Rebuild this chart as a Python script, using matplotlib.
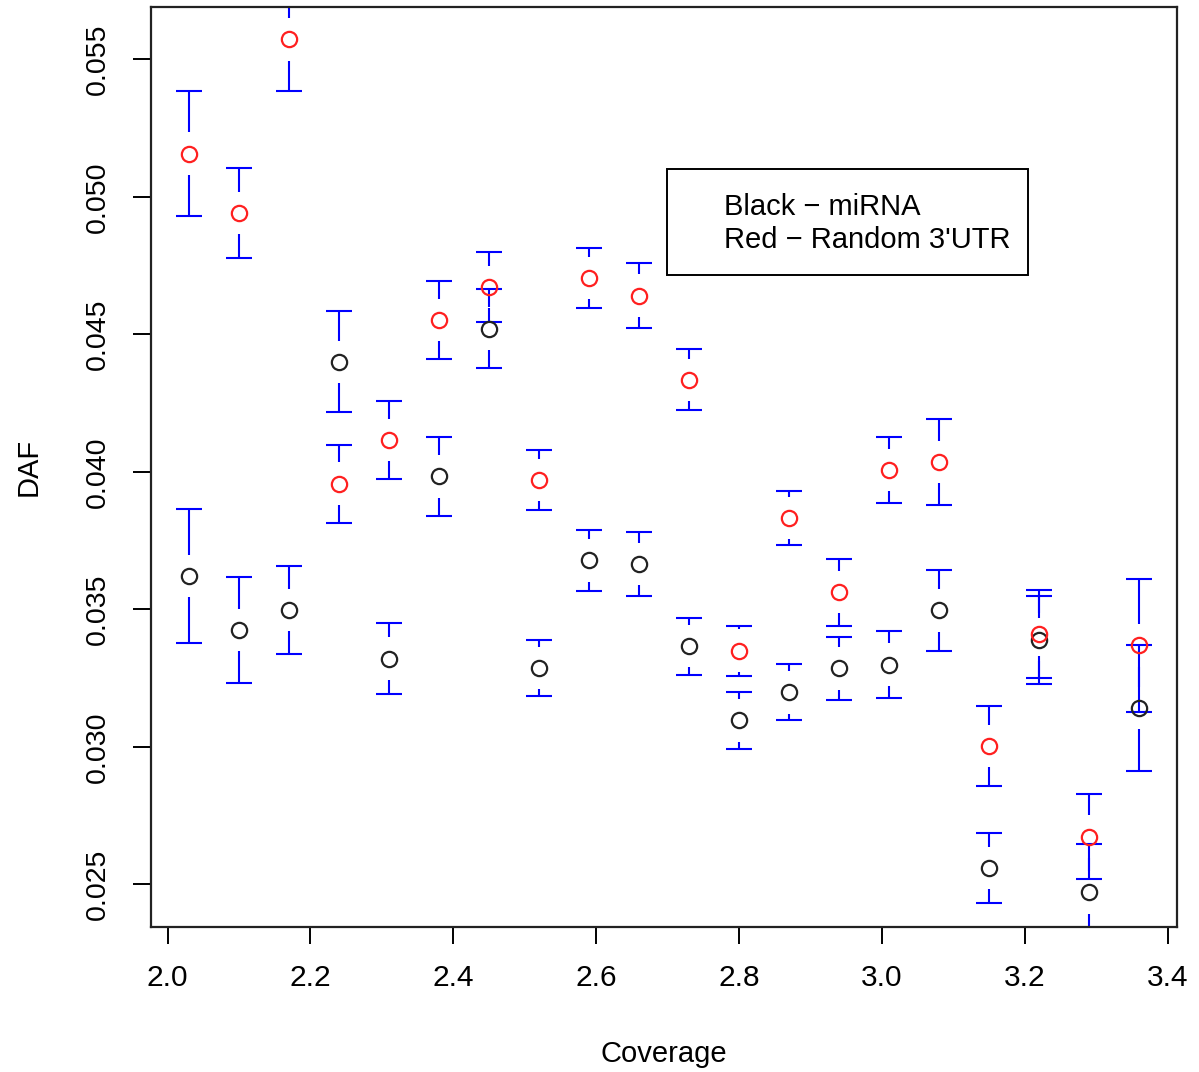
import matplotlib
matplotlib.use("Agg")
import matplotlib.pyplot as plt
from matplotlib.patches import Rectangle
import numpy as np

# coverage bins
coverage = [2.03, 2.10, 2.17, 2.24, 2.31, 2.38, 2.45, 2.52, 2.59, 2.66,
            2.73, 2.80, 2.87, 2.94, 3.01, 3.08, 3.15, 3.22, 3.29, 3.36]

# miRNA (black) mean DAF and half-width of interval
mirna_daf = [0.03621, 0.03424, 0.03497, 0.04400, 0.03321, 0.03983, 0.04521, 0.03286, 0.03678, 0.03665,
             0.03366, 0.03096, 0.03198, 0.03285, 0.03299, 0.03496, 0.02559, 0.03390, 0.02471, 0.03141]
mirna_err = [0.00243, 0.00193, 0.00160, 0.00183, 0.00128, 0.00143, 0.00142, 0.00101, 0.00112, 0.00117,
             0.00104, 0.00102, 0.00102, 0.00113, 0.00123, 0.00146, 0.00128, 0.00160, 0.00175, 0.00229]

# random 3'UTR (red)
utr_daf = [0.05157, 0.04940, 0.05572, 0.03957, 0.04115, 0.04553, 0.04671, 0.03970, 0.04705, 0.04641,
           0.04334, 0.03350, 0.03831, 0.03562, 0.04007, 0.04035, 0.03002, 0.03409, 0.02674, 0.03369]
utr_err = [0.00226, 0.00163, 0.00187, 0.00142, 0.00142, 0.00142, 0.00127, 0.00109, 0.00110, 0.00117,
           0.00111, 0.00091, 0.00098, 0.00121, 0.00120, 0.00156, 0.00146, 0.00160, 0.00153, 0.00243]

xticks = [2.0, 2.2, 2.4, 2.6, 2.8, 3.0, 3.2, 3.4]
yticks = [0.025, 0.030, 0.035, 0.040, 0.045, 0.050, 0.055]

plt.rcParams['font.family'] = ['Liberation Sans', 'DejaVu Sans']

fig = plt.figure(figsize=(11.99, 10.72), dpi=100)
ax = fig.add_axes([151 / 1199, 1 - 927 / 1072, 1026 / 1199, 920 / 1072])

ax.set_xlim(1.9768, 3.4132)
ax.set_ylim(0.02345, 0.05690)

gap = 0.00077    # gap left around each symbol
cap = 0.0182     # half width of the caps


def ci_bars(x, y, err):
    x = np.asarray(x)
    y = np.asarray(y)
    err = np.asarray(err)
    hi = y + err
    lo = y - err
    up_start = np.minimum(y + gap, hi)
    dn_start = np.maximum(y - gap, lo)
    ax.vlines(x, up_start, hi, color='#0000FF', lw=1.5, zorder=2)
    ax.vlines(x, lo, dn_start, color='#0000FF', lw=1.5, zorder=2)
    ax.hlines(hi, x - cap, x + cap, color='#0000FF', lw=1.5, zorder=2)
    ax.hlines(lo, x - cap, x + cap, color='#0000FF', lw=1.5, zorder=2)


ci_bars(coverage, mirna_daf, mirna_err)
ci_bars(coverage, utr_daf, utr_err)

ax.plot(coverage, mirna_daf, 'o', mfc='none', mec='#222222', ms=11, mew=1.6, zorder=3)
ax.plot(coverage, utr_daf, 'o', mfc='none', mec='#FF2020', ms=11, mew=1.6, zorder=3)

ax.set_xticks(xticks)
ax.set_xticklabels(["%.1f" % t for t in xticks])
ax.set_yticks(yticks)
ax.set_yticklabels(["%.3f" % t for t in yticks], rotation=90, va='center')

ax.tick_params(axis='x', length=12, width=1.4, labelsize=21.5, pad=15)
ax.tick_params(axis='y', length=13, width=1.4, labelsize=20.5, pad=16)
for s in ax.spines.values():
    s.set_linewidth(1.6)
    s.set_color('#222222')

ax.set_xlabel("Coverage", fontsize=21, labelpad=34)
ax.set_ylabel("DAF", fontsize=21, labelpad=30)

# legend box (text only, like R's legend without symbols)
ax.add_patch(Rectangle((0.5032, 0.7087), 0.3513, 0.1152, transform=ax.transAxes,
                       fill=False, ec='black', lw=1.4, zorder=4))
ax.text(0.5585, 0.7739, "Black \u2212 miRNA", transform=ax.transAxes,
        fontsize=21, va='baseline', ha='left')
ax.text(0.5585, 0.7380, "Red \u2212 Random 3'UTR", transform=ax.transAxes,
        fontsize=21, va='baseline', ha='left')

fig.savefig("out.png", dpi=100)
